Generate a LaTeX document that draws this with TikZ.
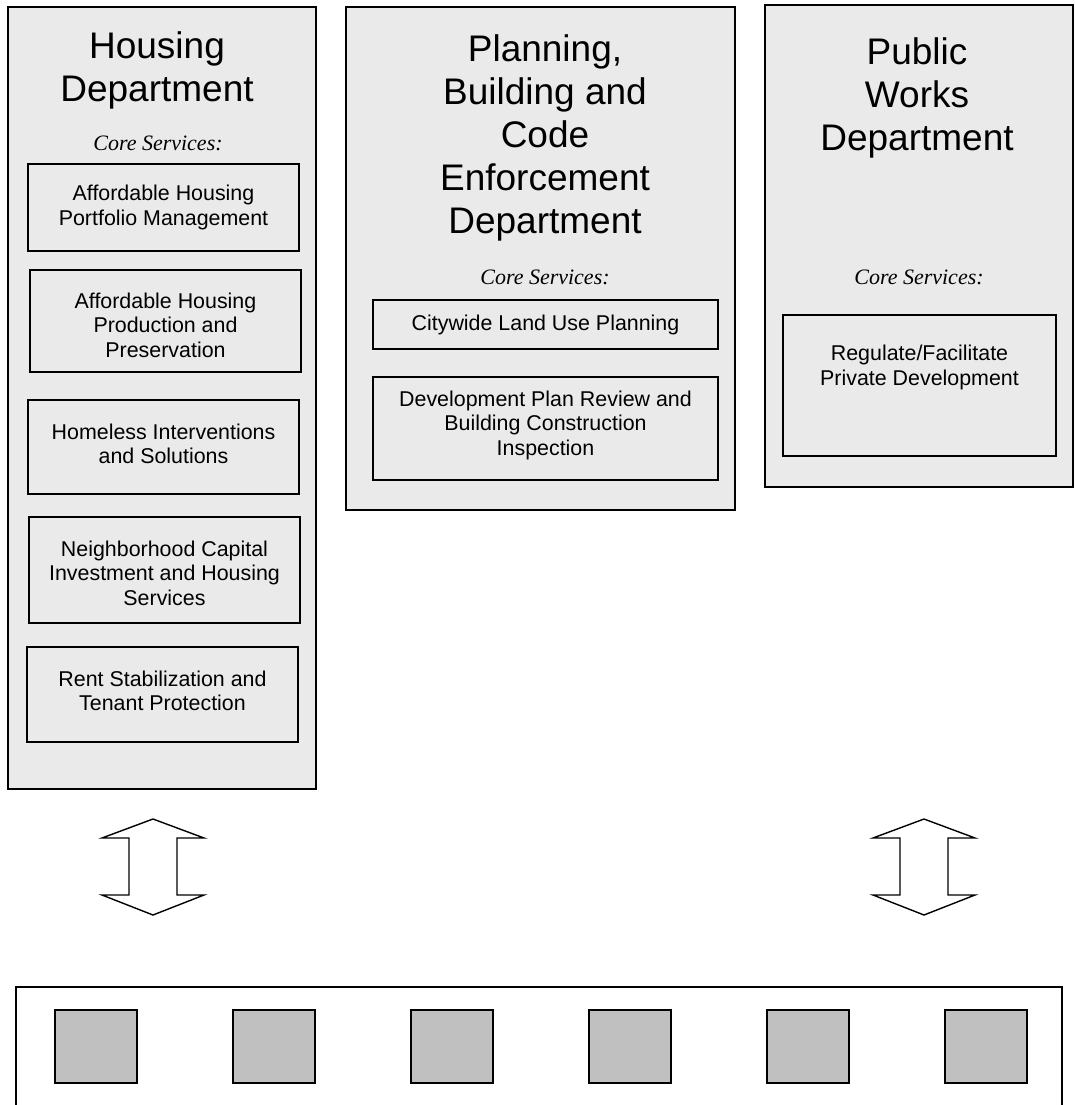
\documentclass[tikz,border=0pt]{standalone}
\usepackage{fontspec}
\setmainfont{Liberation Sans}
\newfontfamily\csfont{Liberation Serif}
\tikzset{
  dept/.style={draw=black, line width=1.4pt, fill=deptgray, inner sep=0pt},
  svcbox/.style={draw=black, line width=1.4pt, fill=deptgray, inner sep=0pt},
  title/.style={align=center, font=\fontsize{37}{43}\selectfont, inner sep=0pt},
  svctext/.style={align=center, font=\fontsize{21.4}{24.5}\selectfont, inner sep=0pt},
  core/.style={font=\csfont\itshape\fontsize{22}{26}\selectfont, inner sep=0pt},
  darrow/.style={draw=black, line width=1.4pt, fill=white, line join=miter},
  sqbox/.style={draw=black, line width=1.4pt, fill=sqgray, inner sep=0pt, minimum width=82pt, minimum height=73pt},
  basebox/.style={draw=black, line width=1.5pt, fill=white}
}
\definecolor{deptgray}{HTML}{EAEAEA}
\definecolor{sqgray}{HTML}{C0C0C0}
\begin{document}
\begin{tikzpicture}[x=1pt,y=-1pt]
\clip (0,0) rectangle (1075,1105);
\fill[white] (0,0) rectangle (1075,1105);

% Housing Department
\node[dept, minimum width=308pt, minimum height=782pt] (hd) at (162,398) {};
\node[title] (hdt) at (157,70) {Housing\\Department};
\node[core] (hdc) at (158,143) {Core Services:};
\node[svcbox, minimum width=271pt, minimum height=87pt] (h1) at (163.5,207.5) {};
\node[svctext] at (h1) {Affordable Housing\\Portfolio Management};
\node[svcbox, minimum width=271pt, minimum height=102pt] (h2) at (165.5,321) {};
\node[svctext] at (165.5,325) {Affordable Housing\\Production and\\Preservation};
\node[svcbox, minimum width=271pt, minimum height=94pt] (h3) at (163.5,447) {};
\node[svctext] at (163.5,444) {Homeless Interventions\\and Solutions};
\node[svcbox, minimum width=271pt, minimum height=106pt] (h4) at (164.5,570) {};
\node[svctext] at (164.5,573) {Neighborhood Capital\\Investment and Housing\\Services};
\node[svcbox, minimum width=271pt, minimum height=95pt] (h5) at (162.5,694.5) {};
\node[svctext] at (162.5,691) {Rent Stabilization and\\Tenant Protection};

% Planning, Building and Code Enforcement Department
\node[dept, minimum width=389pt, minimum height=503pt] (pb) at (540.5,258.5) {};
\node[title] (pbt) at (545,138) {Planning,\\Building and\\Code\\Enforcement\\Department};
\node[core] (pbc) at (545,277) {Core Services:};
\node[svcbox, minimum width=345pt, minimum height=49pt] (p1) at (545.5,324.5) {};
\node[svctext] at (p1) {Citywide Land Use Planning};
\node[svcbox, minimum width=345pt, minimum height=103pt] (p2) at (545.5,428.5) {};
\node[svctext] at (545.5,425) {Development Plan Review and\\Building Construction\\Inspection};

% Public Works Department
\node[dept, minimum width=308pt, minimum height=482pt] (pw) at (919,246) {};
\node[title] (pwt) at (917,98) {Public\\Works\\Department};
\node[core] (pwc) at (919,277) {Core Services:};
\node[svcbox, minimum width=273pt, minimum height=141pt] (w1) at (919.5,385.5) {};
\node[svctext] at (919.5,367.5) {Regulate/Facilitate\\Private Development};

% Double arrows
\draw[darrow] (153,819) -- (204,838) -- (177,838) -- (177,895) -- (204,895)
  -- (153,915) -- (102,895) -- (129,895) -- (129,838) -- (102,838) -- cycle;
\draw[darrow] (924,819) -- (975,838) -- (948,838) -- (948,895) -- (975,895)
  -- (924,915) -- (873,895) -- (900,895) -- (900,838) -- (873,838) -- cycle;

% Bottom box
\node[basebox, minimum width=1046pt, minimum height=140pt, anchor=north west] (bb) at (15,986) {};
\foreach \i in {0,...,5} {
  \node[sqbox] (s\i) at ({96+178*\i},1046.5) {};
}
\end{tikzpicture}
\end{document}
